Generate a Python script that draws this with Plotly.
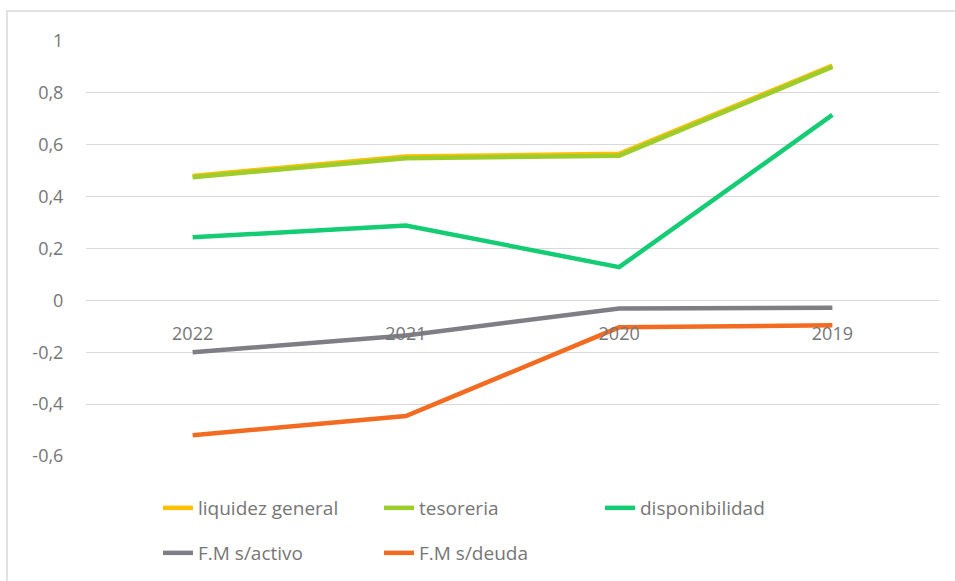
import plotly.graph_objects as go

categories = ["2022", "2021", "2020", "2019"]
liquidez_general = [0.48, 0.555, 0.565, 0.905]
tesoreria = [0.475, 0.548, 0.558, 0.90]
disponibilidad = [0.243, 0.289, 0.128, 0.715]
fm_activo = [-0.20, -0.135, -0.031, -0.028]
fm_deuda = [-0.52, -0.446, -0.104, -0.096]

y_tickvals = [-0.6, -0.4, -0.2, 0, 0.2, 0.4, 0.6, 0.8, 1]
y_ticktext = ["-0,6", "-0,4", "-0,2", "0", "0,2", "0,4", "0,6", "0,8", "1"]

series = [
    ("liquidez general", liquidez_general, "#FFC000", "legend"),
    ("tesoreria", tesoreria, "#9DCC2B", "legend"),
    ("disponibilidad", disponibilidad, "#13CC73", "legend"),
    ("F.M s/activo", fm_activo, "#7F7E85", "legend2"),
    ("F.M s/deuda", fm_deuda, "#F26B21", "legend2"),
]

FONT = "Open Sans, Lato, sans-serif"
TXT = "#767676"
W, H = 955, 581

fig = go.Figure()
for name, vals, color, leg in series:
    fig.add_trace(go.Scatter(
        x=categories, y=vals, name=name, mode="lines",
        line=dict(color=color, width=4.5),
        legend=leg,
    ))

ymin, ymax = -0.6, 1.0
T, B = 41, 125
PH = H - T - B
PB = H - B
legend_common = dict(
    orientation="h", xanchor="left", yanchor="middle",
    xref="container", yref="container",
    x=158 / W,
    entrywidth=176, entrywidthmode="pixels",
    font=dict(family=FONT, size=19, color=TXT),
    bgcolor="rgba(0,0,0,0)", itemwidth=30,
)
fig.update_layout(
    width=W, height=H,
    margin=dict(l=86, r=16, t=T, b=B, autoexpand=False),
    paper_bgcolor="white", plot_bgcolor="white",
    font=dict(family=FONT, size=18, color=TXT),
    separators=",.",
    showlegend=True,
    xaxis=dict(
        type="category", range=[-0.5, 3.5],
        anchor="free", position=(0 - ymin) / (ymax - ymin),
        showgrid=False, zeroline=False, showline=False,
        ticks="outside", ticklen=17, tickcolor="rgba(0,0,0,0)",
        tickfont=dict(family=FONT, size=18, color=TXT),
    ),
    yaxis=dict(
        range=[ymin, ymax],
        tickvals=y_tickvals, ticktext=y_ticktext,
        showgrid=True, gridcolor="#D9D9D9", gridwidth=1.3,
        zeroline=False, showline=False,
        ticks="outside", ticklen=18, tickcolor="rgba(0,0,0,0)",
        tickfont=dict(family=FONT, size=18, color=TXT),
    ),
    legend=dict(legend_common, y=1 - 508 / H),
    legend2=dict(legend_common, y=1 - 553 / H),
    shapes=[dict(
        type="rect", xref="paper", yref="paper",
        x0=(7 - 86) / 853, x1=(970 - 86) / 853,
        y0=-(600 - PB) / PH, y1=1 + (T - 11) / PH,
        line=dict(color="#D9D9D9", width=1.5), fillcolor="rgba(0,0,0,0)",
        layer="below",
    )],
)

fig.write_html(
    "out.html",
    config={"displayModeBar": False},
    post_script="document.body.style.margin='0';document.body.style.overflow='hidden';",
)
